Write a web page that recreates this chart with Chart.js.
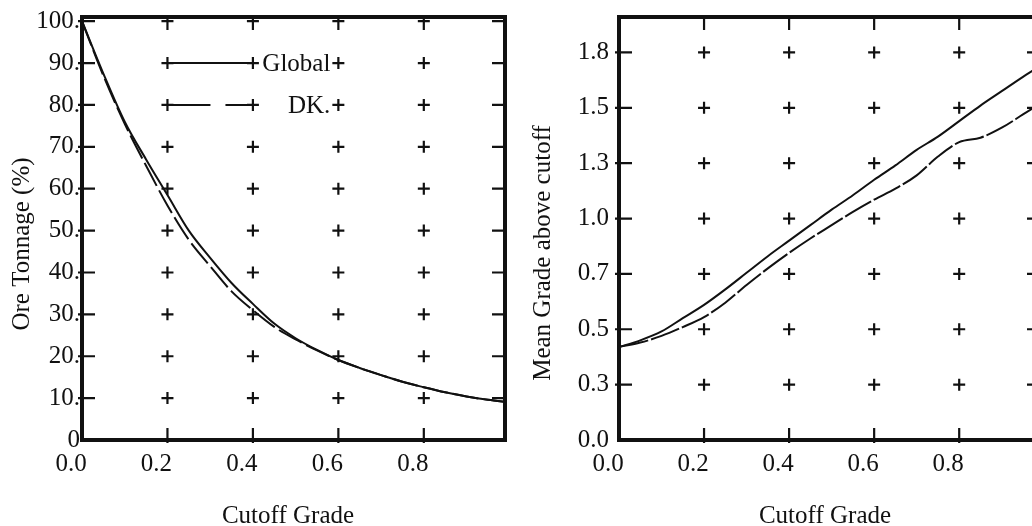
<!DOCTYPE html>
<html>
<head>
<meta charset="utf-8">
<script src="https://cdn.jsdelivr.net/npm/chart.js@4.4.0/dist/chart.umd.min.js"></script>
<style>
  html, body { margin: 0; padding: 0; background: #fff; overflow: hidden; width: 1032px; height: 526px; }
  #left { position: absolute; left: 0; top: 0; }
  #right { position: absolute; left: 520px; top: 0; }
</style>
</head>
<body>
<canvas id="left" width="520" height="526"></canvas>
<canvas id="right" width="540" height="526"></canvas>
<script>
// cutoff grades (x) shared by both panels
const cutoff = [0, 0.05, 0.1, 0.15, 0.2, 0.25, 0.3, 0.35, 0.4, 0.45, 0.5,
                0.55, 0.6, 0.65, 0.7, 0.75, 0.8, 0.85, 0.9, 0.95, 1.0];

// left panel: ore tonnage (%)
const tonnageGlobal = [100, 87.5, 76, 67, 58.5, 50, 43.5, 37.5, 32.5, 27.8, 24.3,
                       21.5, 19.1, 17.2, 15.5, 13.9, 12.6, 11.4, 10.4, 9.6, 9.0];
const tonnageDK = [100, 87, 75.5, 65.5, 56, 47.8, 41.5, 35.5, 31, 27, 24,
                   21.4, 19.1, 17.2, 15.5, 13.9, 12.6, 11.4, 10.4, 9.6, 9.0];

// right panel: mean grade above cutoff
const meanGlobal = [0.42, 0.45, 0.49, 0.55, 0.61, 0.68, 0.755, 0.83, 0.90, 0.97, 1.04,
                    1.105, 1.175, 1.24, 1.31, 1.37, 1.44, 1.51, 1.575, 1.64, 1.70];
const meanDK = [0.42, 0.44, 0.47, 0.51, 0.555, 0.62, 0.70, 0.775, 0.845, 0.91, 0.97,
                1.03, 1.085, 1.135, 1.195, 1.28, 1.345, 1.365, 1.41, 1.47, 1.53];

// ticks
const xTickValues = [0, 0.2, 0.4, 0.6, 0.8];
const xTickLabels = ['0.0', '0.2', '0.4', '0.6', '0.8'];
const tonTickValues = [0, 10, 20, 30, 40, 50, 60, 70, 80, 90, 100];
const tonTickLabels = ['0', '10.', '20.', '30.', '40.', '50.', '60.', '70.', '80.', '90.', '100.'];
const meanTickValues = [0, 0.25, 0.5, 0.75, 1.0, 1.25, 1.5, 1.75];
const meanTickLabels = ['0.0', '0.3', '0.5', '0.7', '1.0', '1.3', '1.5', '1.8'];

const SERIF = '"Liberation Serif", "Times New Roman", serif';
const INK = '#111';
const FONT_SIZE = 25;

const deco = {
  id: 'deco',
  beforeDatasetsDraw(chart, args, o) {
    const { ctx, chartArea: a, scales: { x, y } } = chart;
    ctx.save();
    ctx.strokeStyle = INK;
    ctx.lineWidth = 2.2;
    ctx.beginPath();
    o.xMarks.forEach(xv => {
      const px = x.getPixelForValue(xv);
      ctx.moveTo(px, a.bottom + 3); ctx.lineTo(px, a.bottom - 12);
      ctx.moveTo(px, a.top); ctx.lineTo(px, a.top + 13);
      o.yMarks.forEach(yv => {
        const py = y.getPixelForValue(yv);
        ctx.moveTo(px - 6, py); ctx.lineTo(px + 6, py);
        ctx.moveTo(px, py - 6); ctx.lineTo(px, py + 6);
      });
    });
    o.yMarks.forEach(yv => {
      const py = y.getPixelForValue(yv);
      ctx.moveTo(a.left - 4, py); ctx.lineTo(a.left + 13, py);
      ctx.moveTo(a.right - 13, py); ctx.lineTo(a.right, py);
    });
    ctx.stroke();
    ctx.restore();
  },
  afterDatasetsDraw(chart, args, o) {
    const { ctx, chartArea: a, scales: { x, y } } = chart;
    ctx.save();
    ctx.strokeStyle = INK;
    ctx.lineWidth = 4;
    ctx.strokeRect(a.left, a.top, a.right - a.left, a.bottom - a.top);

    ctx.fillStyle = INK;
    ctx.font = FONT_SIZE + 'px ' + SERIF;
    if (o.legend) {
      const lg = o.legend;
      lg.rows.forEach((yv, i) => {
        const ds = chart.data.datasets[i];
        const py = y.getPixelForValue(yv);
        ctx.lineWidth = 2;
        ctx.setLineDash(lg.dashes[i]);
        ctx.beginPath();
        ctx.moveTo(x.getPixelForValue(lg.from), py);
        ctx.lineTo(x.getPixelForValue(lg.to), py);
        ctx.stroke();
        ctx.setLineDash([]);
        ctx.textAlign = 'right';
        ctx.textBaseline = 'middle';
        ctx.fillText(ds.label, x.getPixelForValue(lg.textAt) - 8, py + 1);
      });
    }

    ctx.textAlign = 'center';
    ctx.textBaseline = 'middle';
    ctx.fillText(o.xTitle.text, o.xTitle.x, o.xTitle.y);
    ctx.translate(o.yTitle.x, o.yTitle.y);
    ctx.rotate(-Math.PI / 2);
    ctx.fillText(o.yTitle.text, 0, 0);
    ctx.restore();
  }
};

function panel(id, p) {
  const tickFont = { family: SERIF, size: FONT_SIZE };
  return new Chart(document.getElementById(id), {
    type: 'line',
    data: {
      labels: cutoff,
      datasets: [
        { label: 'Global', data: p.global, borderColor: INK, borderWidth: 2,
          pointRadius: 0, cubicInterpolationMode: 'monotone' },
        { label: 'DK.', data: p.dk, borderColor: INK, borderWidth: 2,
          borderDash: p.dash, pointRadius: 0, cubicInterpolationMode: 'monotone' }
      ]
    },
    options: {
      responsive: false,
      animation: false,
      layout: { padding: { top: 17, right: p.padRight, left: 0, bottom: 0 } },
      plugins: {
        legend: { display: false },
        tooltip: { enabled: false },
        deco: {
          xMarks: [0.2, 0.4, 0.6, 0.8],
          yMarks: p.yTicks.slice(1),
          legend: p.legend,
          xTitle: p.xTitle,
          yTitle: p.yTitle
        }
      },
      scales: {
        x: {
          type: 'linear', min: 0, max: 0.99,
          grid: { display: false, drawTicks: false }, border: { display: false },
          afterBuildTicks: s => { s.ticks = xTickValues.map(v => ({ value: v })); },
          afterFit: s => { s.height = 86; s.paddingLeft = 0; s.paddingRight = 0; },
          ticks: {
            autoSkip: false, maxRotation: 0, padding: 9, labelOffset: -11,
            color: INK, font: tickFont,
            callback: (v, i) => xTickLabels[i]
          }
        },
        y: {
          min: 0, max: p.yMax,
          grid: { display: false, drawTicks: false }, border: { display: false },
          afterBuildTicks: s => { s.ticks = p.yTicks.map(v => ({ value: v })); },
          afterFit: s => { s.width = p.yWidth; s.paddingTop = 0; s.paddingBottom = 0; },
          ticks: {
            autoSkip: false, padding: p.yPad, color: INK, font: tickFont,
            callback: (v, i) => p.yLabels[i]
          }
        }
      }
    },
    plugins: [deco]
  });
}

panel('left', {
  global: tonnageGlobal, dk: tonnageDK, dash: [26, 5],
  yMax: 101, yTicks: tonTickValues, yLabels: tonTickLabels,
  yWidth: 82, yPad: 2, padRight: 15,
  legend: { rows: [90, 80], from: 0.2, to: 0.4, textAt: 0.6, dashes: [[], [43, 15]] },
  xTitle: { text: 'Cutoff Grade', x: 288, y: 516 },
  yTitle: { text: 'Ore Tonnage (%)', x: 22, y: 244 }
});

panel('right', {
  global: meanGlobal, dk: meanDK, dash: [30, 3],
  yMax: 1.91, yTicks: meanTickValues, yLabels: meanTickLabels,
  yWidth: 99, yPad: 10, padRight: 20,
  legend: null,
  xTitle: { text: 'Cutoff Grade', x: 305, y: 516 },
  yTitle: { text: 'Mean Grade above cutoff', x: 23, y: 253 }
});
</script>
</body>
</html>
